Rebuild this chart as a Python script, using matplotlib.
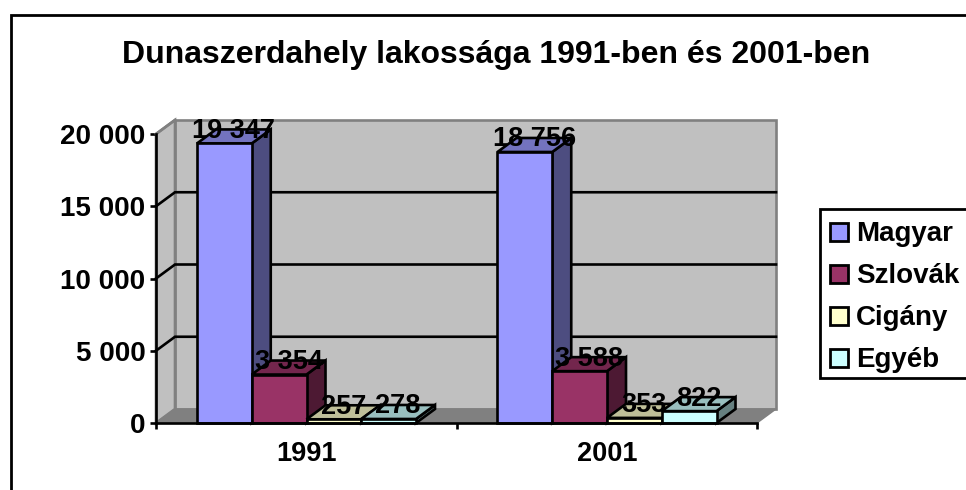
import matplotlib
matplotlib.use('Agg')
import matplotlib.pyplot as plt
from matplotlib.patches import Polygon, Rectangle
import numpy as np

plt.rcParams['font.family'] = ['Liberation Sans', 'DejaVu Sans']

years = ['1991', '2001']
groups = ['Magyar', 'Szlovák', 'Cigány', 'Egyéb']
magyar = [19347, 18756]
szlovak = [3354, 3588]
cigany = [257, 353]
egyeb = [278, 822]
value_labels = [['19 347', '18 756'], ['3 354', '3 588'], ['257', '353'], ['278', '822']]
y_ticks = [0, 5000, 10000, 15000, 20000]
y_labels = ['0', '5 000', '10 000', '15 000', '20 000']

front = ['#9999ff', '#993366', '#ffffcc', '#ccffff']
top = ['#7373bf', '#73264d', '#bfbf99', '#99bfbf']
side = ['#4d4d80', '#4d1933', '#808066', '#668080']

W, H = 966, 490
LW = 1.9
fig = plt.figure(figsize=(W / 100, H / 100), dpi=100)
fig.patch.set_facecolor('white')

# whole figure in pixels for frame and legend
bg = fig.add_axes([0, 0, 1, 1], zorder=0)
bg.set_xlim(0, W)
bg.set_ylim(H, 0)
bg.axis('off')
bg.add_patch(Rectangle((11, 15), 1000, 600, fc='white', ec='black', lw=2.0))

# plot area, front plane 156-757 / 423-134
left, right, base, ceil = 156, 757, 423, 134
ax = fig.add_axes([left / W, 1 - base / H, (right - left) / W, (base - ceil) / H], zorder=1)
ax.set_xlim(0, 2)
ax.set_ylim(0, 20000)
ax.patch.set_visible(False)
for s in ax.spines.values():
    s.set_visible(False)
ax.spines['left'].set_visible(True)
ax.spines['bottom'].set_visible(True)
ax.spines['left'].set_linewidth(LW)
ax.spines['bottom'].set_linewidth(LW)
ax.spines['left'].set_zorder(30)
ax.spines['bottom'].set_zorder(30)

# depth of the fake 3d box, in data units
dx = 19 / (right - left) * 2
dy = 14 / (base - ceil) * 20000

ax.add_patch(Polygon([(dx, dy), (2 + dx, dy), (2 + dx, 20000 + dy), (dx, 20000 + dy)],
                     fc='#c0c0c0', ec='#808080', lw=LW, clip_on=False, zorder=1))
ax.add_patch(Polygon([(0, 0), (dx, dy), (dx, 20000 + dy), (0, 20000)],
                     fc='#c0c0c0', ec='#808080', lw=LW, clip_on=False, zorder=1))
ax.add_patch(Polygon([(0, 0), (2, 0), (2 + dx, dy), (dx, dy)],
                     fc='#808080', ec='#808080', lw=1.0, clip_on=False, zorder=1))
for t in y_ticks[1:-1]:
    ax.plot([0, dx, 2 + dx], [t, t + dy, t + dy], color='k', lw=LW, clip_on=False, zorder=2,
            solid_joinstyle='miter')
ax.plot([0, dx], [20000, 20000 + dy], color='#808080', lw=LW, clip_on=False, zorder=2)

series = [magyar, szlovak, cigany, egyeb]
bar_w = 54.75 / (right - left) * 2
start = 41 / (right - left) * 2
for i in range(2):
    for j, vals in enumerate(series):
        x0 = i + start + j * bar_w
        v = vals[i]
        z = 3 + i * 10 + j
        ax.add_patch(Polygon([(x0 + bar_w, 0), (x0 + bar_w + dx, dy), (x0 + bar_w + dx, v + dy), (x0 + bar_w, v)],
                             fc=side[j], ec='k', lw=LW, clip_on=False, zorder=z))
        ax.add_patch(Polygon([(x0, v), (x0 + dx, v + dy), (x0 + bar_w + dx, v + dy), (x0 + bar_w, v)],
                             fc=top[j], ec='k', lw=LW, clip_on=False, zorder=z))
        ax.bar(x0, v, width=bar_w, align='edge', color=front[j], edgecolor='k', lw=LW, zorder=z, clip_on=False)

for i in range(2):
    for j, vals in enumerate(series):
        x0 = i + start + j * bar_w
        ax.text(x0 + bar_w / 2 + dx / 2, vals[i] + dy - 100, value_labels[j][i], ha='center', va='center',
                fontsize=19.5, fontweight='bold', color='k', zorder=40, clip_on=False)

ax.set_xticks([0, 1, 2])
ax.set_xticklabels([])
ax.set_yticks(y_ticks)
ax.set_yticklabels(y_labels, fontsize=20, fontweight='bold')
ax.tick_params(axis='both', direction='out', length=4.3, width=LW, pad=3.2)
for i, y in enumerate(years):
    ax.text(i + 0.5, -2130, y, ha='center', va='center', fontsize=19.5, fontweight='bold', clip_on=False)

bg.text(496, 63, 'Dunaszerdahely lakossága 1991-ben és 2001-ben', ha='center', va='baseline',
        fontsize=23, fontweight='bold')

# legend, runs off the right edge
bg.add_patch(Rectangle((820, 209), 300, 169, fc='white', ec='black', lw=2.0))
for j, name in enumerate(groups):
    yc = 232 + j * 42
    bg.add_patch(Rectangle((830, yc - 9), 18, 18, fc=front[j], ec='k', lw=2.0))
    bg.text(856, yc + 9, name, ha='left', va='baseline', fontsize=20, fontweight='bold')

fig.savefig('out.png', dpi=100)
